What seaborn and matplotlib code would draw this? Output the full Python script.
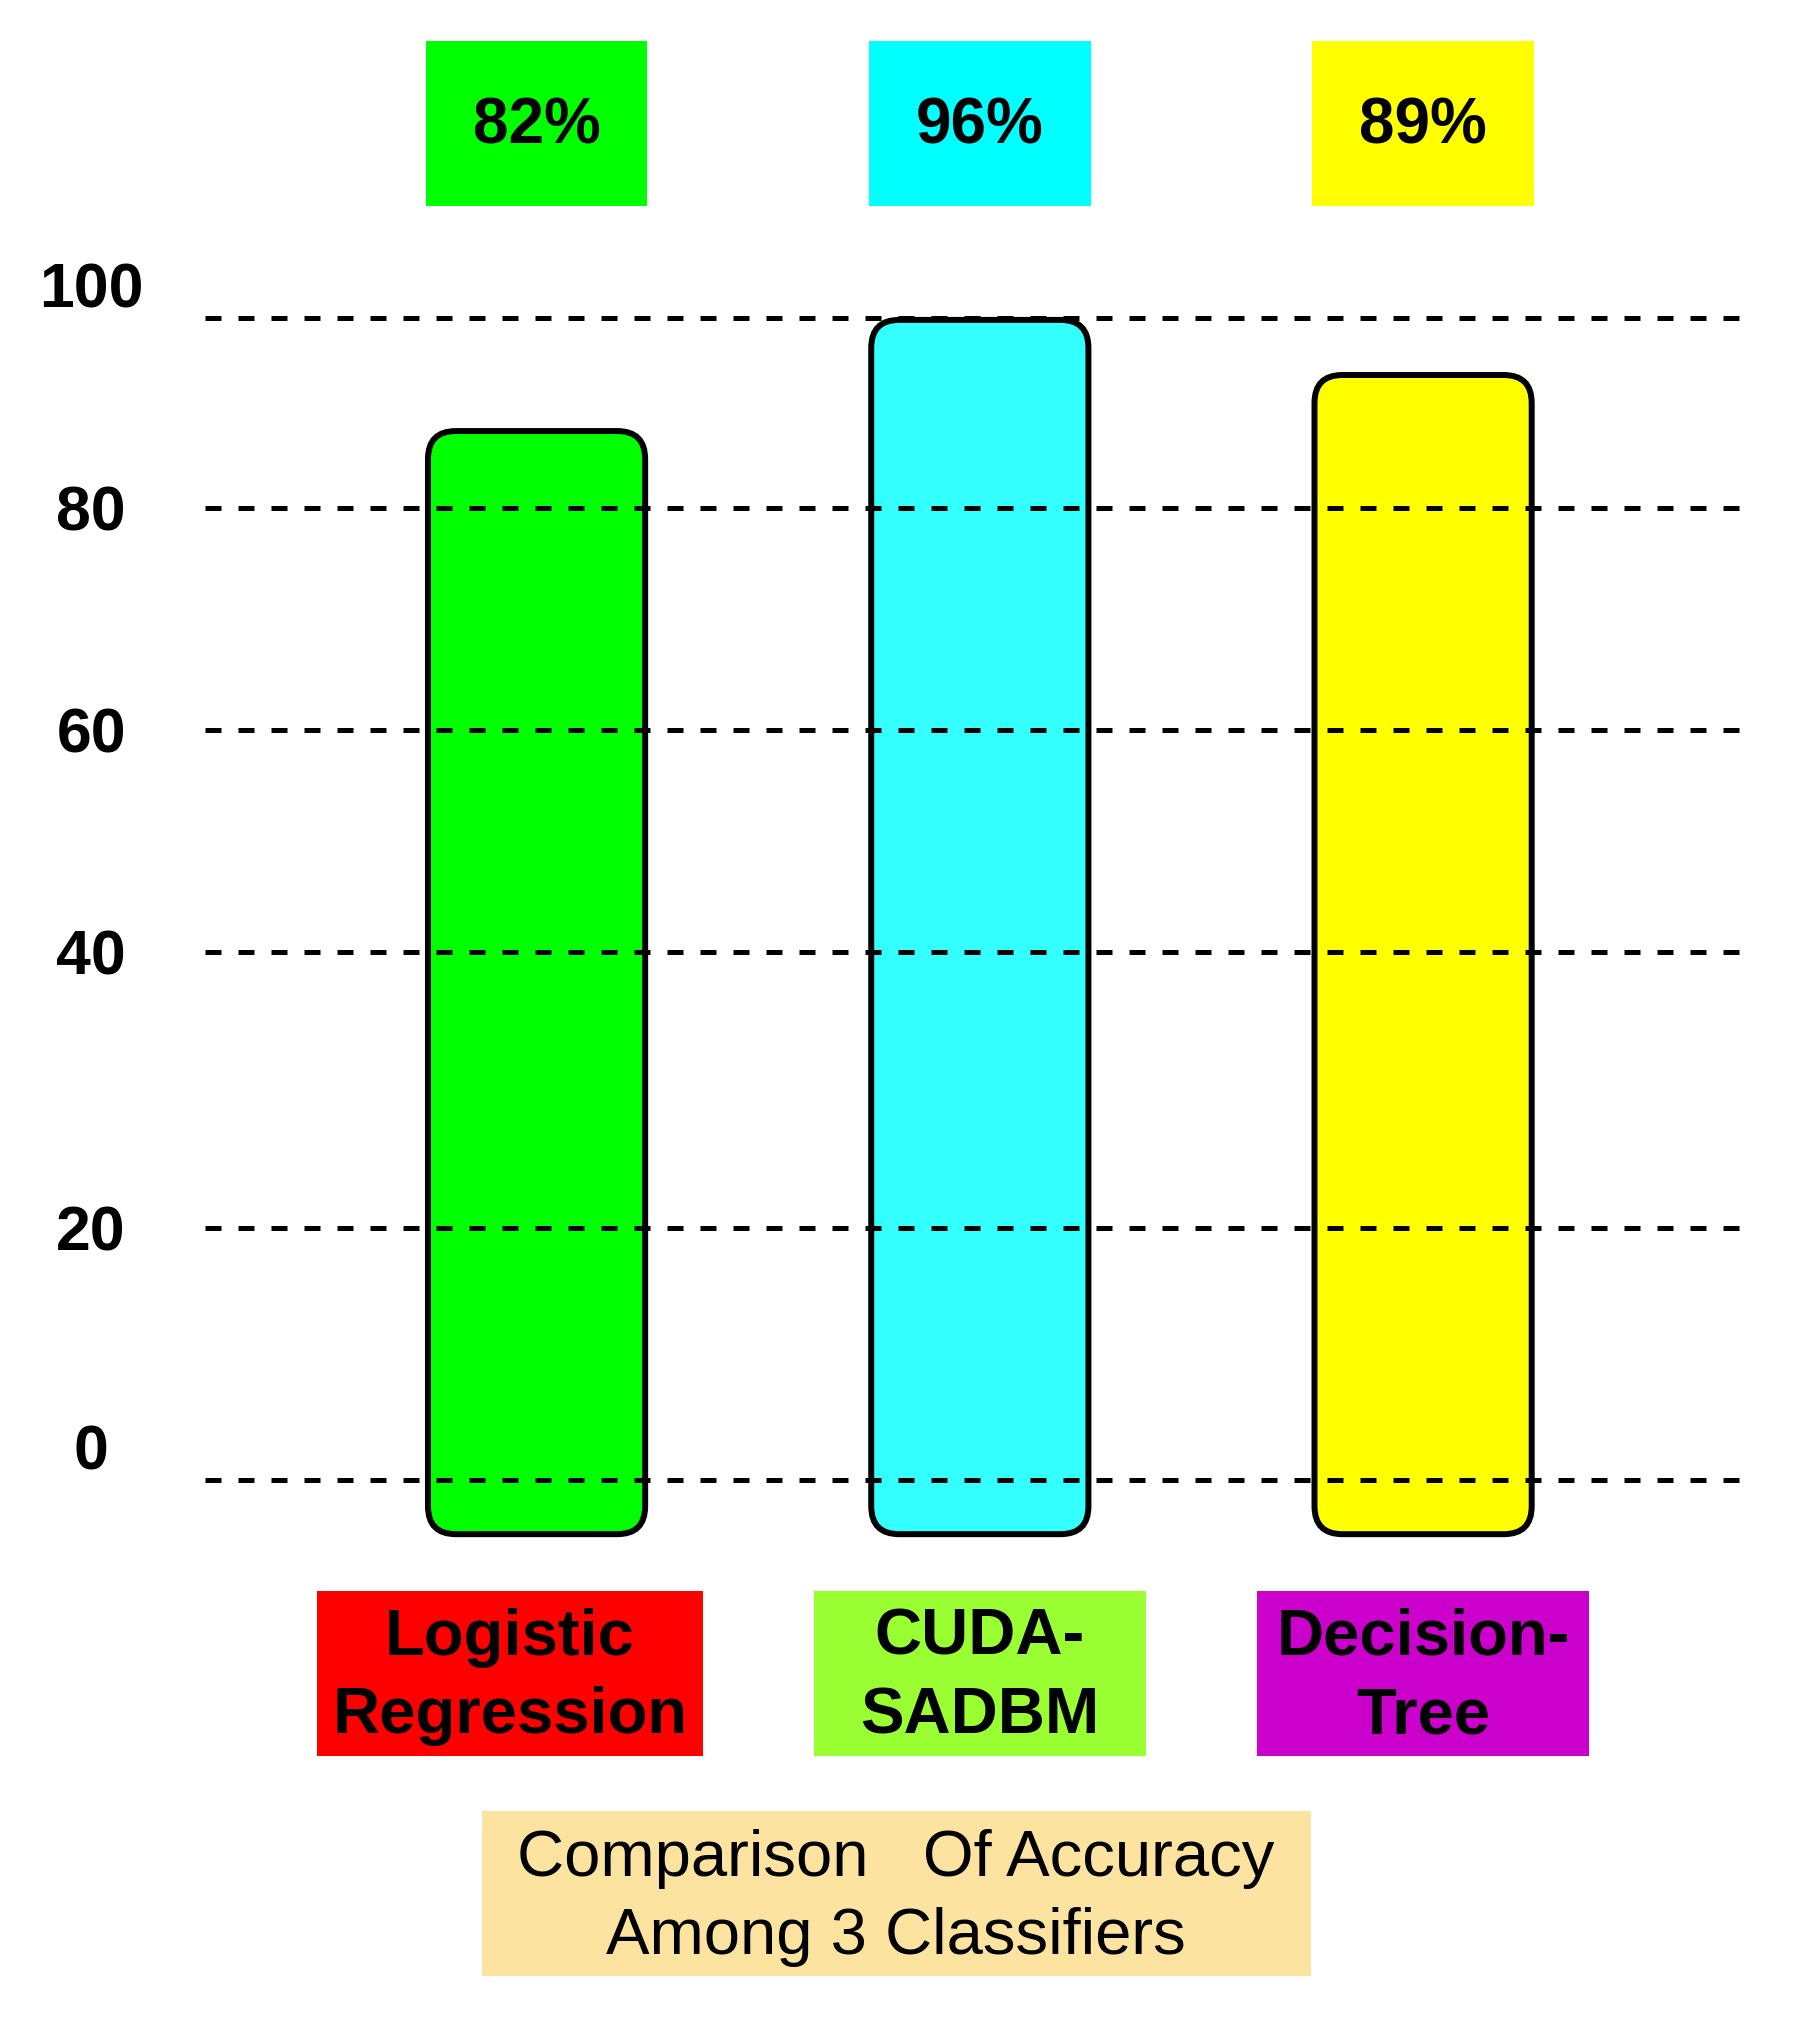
import numpy as np
import pandas as pd
import seaborn as sns
import matplotlib.pyplot as plt
from matplotlib.patches import FancyBboxPatch, Rectangle
from matplotlib.transforms import blended_transform_factory, ScaledTranslation

# Data
classifiers = ["Logistic\nRegression", "CUDA-\nSADBM", "Decision-\nTree"]
accuracy = [82, 96, 89]            # printed in the boxes above the bars
bar_top = [88.1, 99.8, 94.0]       # where the bar tops sit against the axis
bar_base = -4.3                    # bars start a bit below the 0 line
y_ticks = [0, 20, 40, 60, 80, 100]
caption = "Comparison   Of Accuracy\nAmong 3 Classifiers"

bar_colors = ["#00ff00", "#33ffff", "#ffff00"]
top_colors = ["#00ff00", "#00ffff", "#ffff00"]
name_colors = ["#ff0000", "#99ff33", "#cc00cc"]
caption_color = "#fde3a0"

# The original axis is hand drawn: ticks are not evenly spaced.
# Height (px) of each tick above the 0 line, used as a piecewise linear scale.
tick_px = [0, 252, 528, 750, 972, 1162]
scale_vals = np.array([-20] + y_ticks + [120], dtype=float)
scale_px = np.array([-252] + tick_px + [1162 + 190], dtype=float)


def forward(v):
    return np.interp(v, scale_vals, scale_px)


def inverse(p):
    return np.interp(p, scale_px, scale_vals)


sns.set_theme(style="white")
plt.rcParams["font.family"] = ["Liberation Sans", "DejaVu Sans"]
plt.rcParams["text.color"] = "black"
plt.rcParams["ytick.color"] = "black"
plt.rcParams["ytick.labelcolor"] = "black"

W, H = 1808, 2021
fig = plt.figure(figsize=(W / 100, H / 100), dpi=100)
fig.patch.set_facecolor("white")
ax = fig.add_axes([205 / W, 1 - 1545 / H, (1752 - 205) / W, (1545 - 300) / H])

df = pd.DataFrame({"classifier": classifiers, "top": bar_top})
sns.barplot(data=df, x="classifier", y="top", hue="classifier",
            palette=bar_colors, width=0.49, legend=False, ax=ax)

ax.set_yscale("function", functions=(forward, inverse))
ax.set_ylim(inverse(-65), inverse(1180))
ax.set_xlim(-0.748, 2.742)
ax.set_xlabel("")
ax.set_ylabel("")
ax.set_xticks([])
for s in ax.spines.values():
    s.set_visible(False)

# swap the plain bars for rounded ones (drawn in axes coords so corners stay round)
to_axes = ax.transData + ax.transAxes.inverted()
bb = ax.get_window_extent()
r = 28 / bb.width
for p, top, c in zip(list(ax.patches), bar_top, bar_colors):
    x0, w = p.get_x(), p.get_width()
    (a0, b0) = to_axes.transform((x0, bar_base))
    (a1, b1) = to_axes.transform((x0 + w, top))
    ax.add_patch(FancyBboxPatch((a0, b0), a1 - a0, b1 - b0,
                                boxstyle=f"round,pad=0,rounding_size={r}",
                                mutation_aspect=bb.width / bb.height,
                                transform=ax.transAxes, fc=c, ec="black",
                                lw=4.3, zorder=2))
    p.remove()

# dashed grid lines on top of the bars
for t in y_ticks:
    ax.axhline(t, color="black", lw=3.6, ls=(0, (3.2, 3.4)), zorder=3)

ax.set_yticks(y_ticks)
ax.set_yticklabels([str(t) for t in y_ticks], fontsize=45, fontweight="bold",
                   color="black")
ax.tick_params(axis="y", length=0, pad=82)
for lab, t in zip(ax.get_yticklabels(), y_ticks):
    lab.set_horizontalalignment("center")
    if t in (0, 100):
        lab.set_transform(lab.get_transform() +
                          ScaledTranslation(0, 24 / 72, fig.dpi_scale_trans))

# accuracy boxes above the bars
trans = blended_transform_factory(ax.transData, fig.transFigure)
for i, (acc, c) in enumerate(zip(accuracy, top_colors)):
    ax.add_patch(Rectangle((i - 0.25, 1 - 206 / H), 0.5, 165 / H,
                           transform=trans, fc=c, ec="none", clip_on=False))
    ax.text(i, 1 - 127 / H, f"{acc}%", transform=trans, ha="center",
            va="center", fontsize=46, fontweight="bold", color="black")

# classifier names below the bars
name_shift = [-0.06, 0, 0]
name_width = [0.87, 0.75, 0.75]
for i, (name, c) in enumerate(zip(classifiers, name_colors)):
    cx = i + name_shift[i]
    ax.add_patch(Rectangle((cx - name_width[i] / 2, 1 - 1756 / H), name_width[i],
                           165 / H, transform=trans, fc=c, ec="none", clip_on=False))
    ax.text(cx, 1 - 1677 / H, name, transform=trans, ha="center", va="center",
            fontsize=47, fontweight="bold", linespacing=1.4, color="black")

# caption
fig.patches.append(Rectangle((482 / W, 1 - 1976 / H), 829 / W, 165 / H,
                             transform=fig.transFigure, fc=caption_color,
                             ec="none"))
fig.text(896 / W, 1 - 1898 / H, caption, ha="center", va="center",
         fontsize=47, linespacing=1.4, color="black")

fig.savefig("out.png", dpi=100)
